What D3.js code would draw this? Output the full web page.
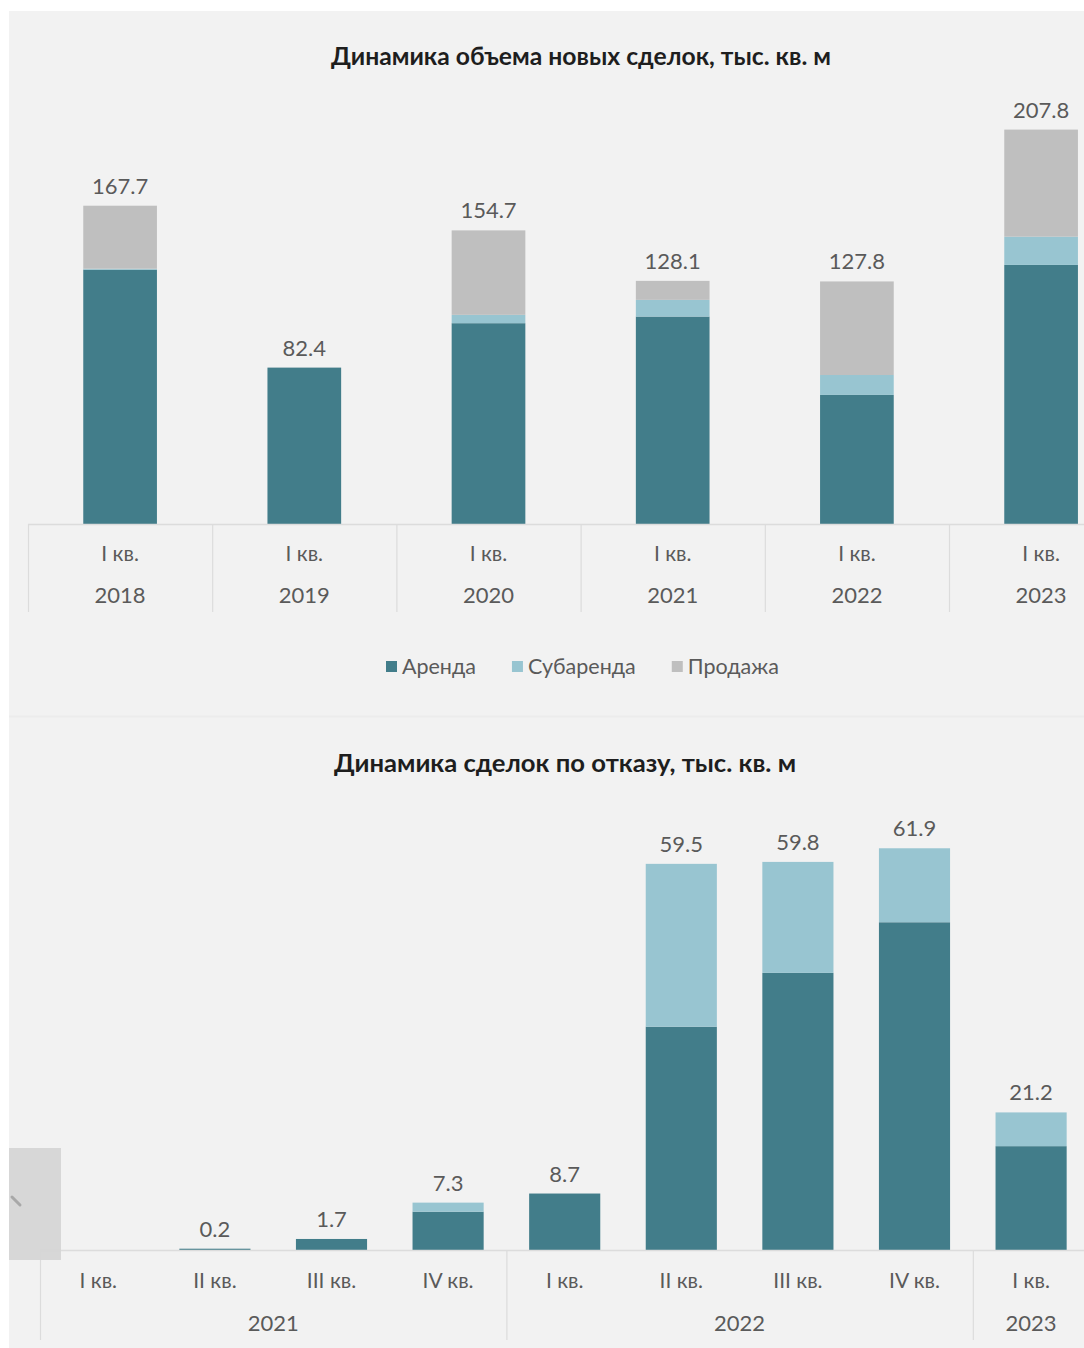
<!DOCTYPE html>
<html lang="ru">
<head>
<meta charset="utf-8">
<script src="https://cdn.jsdelivr.net/npm/d3@7"></script>
<style>
  html, body { margin: 0; padding: 0; background: #ffffff; }
  svg { display: block; }
  text { font-family: Lato, "Open Sans", "Noto Sans", sans-serif; }
</style>
</head>
<body>
<svg id="chart" width="1084" height="1348"></svg>
<script>
// ---- Chart 1: new deals volume, thousand sq. m ----
const dealYears = ["2018", "2019", "2020", "2021", "2022", "2023"];
const dealQuarter = "I кв.";
const dealRent = [134.0, 82.4, 105.8, 109.3, 68.0, 136.5];
const dealSublease = [0.5, 0.0, 4.4, 8.8, 10.5, 14.9];
const dealSale = [33.2, 0.0, 44.5, 10.0, 49.3, 56.4];
const dealTotals = [167.7, 82.4, 154.7, 128.1, 127.8, 207.8];

// ---- Chart 2: deals by termination, thousand sq. m ----
const exitQuarters = ["I кв.", "II кв.", "III кв.", "IV кв.", "I кв.", "II кв.", "III кв.", "IV кв.", "I кв."];
const exitYearOf = ["2021", "2021", "2021", "2021", "2022", "2022", "2022", "2022", "2023"];
const exitRent = [0, 0.2, 1.7, 5.9, 8.7, 34.4, 42.7, 50.5, 16.0];
const exitSublease = [0, 0, 0, 1.4, 0, 25.1, 17.1, 11.4, 5.2];
const exitTotals = [null, 0.2, 1.7, 7.3, 8.7, 59.5, 59.8, 61.9, 21.2];

const seriesNames = ["Аренда", "Субаренда", "Продажа"];
const colors = { "Аренда": "#427d8a", "Субаренда": "#98c5d1", "Продажа": "#bfbfbf" };
const textGrey = "#5a5a5a";
const lineGrey = "#dcdcdc";

const svg = d3.select("#chart");

// page background panel
svg.append("rect").attr("x", 9).attr("y", 11).attr("width", 1075).attr("height", 1337).attr("fill", "#f2f2f2");
svg.append("line").attr("x1", 9).attr("x2", 1084).attr("y1", 716.5).attr("y2", 716.5)
  .attr("stroke", "#ececec").attr("stroke-width", 2);

// ================= Chart 1 =================
const g1 = svg.append("g");
const x1 = d3.scaleBand().domain(dealYears).range([28, 28 + 184.2 * dealYears.length]).padding(0);
const y1 = d3.scaleLinear().domain([0, 220]).range([524, 524 - 1.898 * 220]);
const barW1 = x1.bandwidth() * 0.4;

const rows1 = dealYears.map((yr, i) => ({
  key: yr, "Аренда": dealRent[i], "Субаренда": dealSublease[i], "Продажа": dealSale[i], total: dealTotals[i]
}));
const stack1 = d3.stack().keys(seriesNames)(rows1);

g1.append("text").attr("x", 581).attr("y", 65).attr("text-anchor", "middle")
  .attr("font-size", 24).attr("font-weight", 700).attr("fill", "#1e1e1e")
  .attr("textLength", 500).attr("lengthAdjust", "spacingAndGlyphs")
  .text("Динамика объема новых сделок, тыс. кв. м");

g1.selectAll("g.series").data(stack1).join("g").attr("class", "series")
  .attr("fill", d => colors[d.key])
  .selectAll("rect").data(d => d).join("rect")
  .attr("x", d => x1(d.data.key) + (x1.bandwidth() - barW1) / 2)
  .attr("width", barW1)
  .attr("y", d => y1(d[1]))
  .attr("height", d => Math.max(0, y1(d[0]) - y1(d[1])));

g1.selectAll("text.total").data(rows1).join("text").attr("class", "total")
  .attr("x", d => x1(d.key) + x1.bandwidth() / 2)
  .attr("y", d => y1(d.total) - 12)
  .attr("text-anchor", "middle").attr("font-size", 22).attr("fill", textGrey)
  .text(d => d.total.toFixed(1));

// category axis
g1.append("line").attr("x1", x1.range()[0]).attr("x2", 1084).attr("y1", 524.5).attr("y2", 524.5)
  .attr("stroke", lineGrey).attr("stroke-width", 1.5);
g1.selectAll("line.sep").data(dealYears).join("line").attr("class", "sep")
  .attr("x1", d => x1(d) + 0.5).attr("x2", d => x1(d) + 0.5)
  .attr("y1", 524).attr("y2", 612).attr("stroke", lineGrey).attr("stroke-width", 1.2);
g1.selectAll("text.q").data(dealYears).join("text").attr("class", "q")
  .attr("x", d => x1(d) + x1.bandwidth() / 2).attr("y", 561)
  .attr("text-anchor", "middle").attr("font-size", 21).attr("fill", textGrey)
  .text(dealQuarter);
g1.selectAll("text.yr").data(dealYears).join("text").attr("class", "yr")
  .attr("x", d => x1(d) + x1.bandwidth() / 2).attr("y", 603)
  .attr("text-anchor", "middle").attr("font-size", 22).attr("fill", textGrey)
  .text(d => d);

// legend
const legend = g1.append("g").attr("transform", "translate(0,666)");
let lx = 386;
seriesNames.forEach(name => {
  legend.append("rect").attr("x", lx).attr("y", -5).attr("width", 11).attr("height", 11).attr("fill", colors[name]);
  const t = legend.append("text").attr("x", lx + 16).attr("y", 8).attr("font-size", 21.5).attr("fill", textGrey).text(name);
  lx += 16 + t.node().getComputedTextLength() + 36;
});

// ================= Chart 2 =================
const g2 = svg.append("g");
const idx2 = exitQuarters.map((q, i) => String(i));
const x2 = d3.scaleBand().domain(idx2).range([40, 40 + 116.6 * idx2.length]).padding(0);
const y2 = d3.scaleLinear().domain([0, 65]).range([1250, 1250 - 6.49 * 65]);
const barW2 = x2.bandwidth() * 0.61;

const rows2 = idx2.map((k, i) => ({ key: k, "Аренда": exitRent[i], "Субаренда": exitSublease[i], total: exitTotals[i] }));
const stack2 = d3.stack().keys(["Аренда", "Субаренда"])(rows2);

g2.append("text").attr("x", 565).attr("y", 772).attr("text-anchor", "middle")
  .attr("font-size", 24).attr("font-weight", 700).attr("fill", "#1e1e1e")
  .attr("textLength", 462).attr("lengthAdjust", "spacingAndGlyphs")
  .text("Динамика сделок по отказу, тыс. кв. м");

g2.selectAll("g.series").data(stack2).join("g").attr("class", "series")
  .attr("fill", d => colors[d.key])
  .selectAll("rect").data(d => d).join("rect")
  .attr("x", d => x2(d.data.key) + (x2.bandwidth() - barW2) / 2)
  .attr("width", barW2)
  .attr("y", d => y2(d[1]))
  .attr("height", d => Math.max(0, y2(d[0]) - y2(d[1])));

g2.selectAll("text.total").data(rows2.filter(d => d.total !== null)).join("text").attr("class", "total")
  .attr("x", d => x2(d.key) + x2.bandwidth() / 2)
  .attr("y", d => y2(d.total) - 12)
  .attr("text-anchor", "middle").attr("font-size", 22).attr("fill", textGrey)
  .text(d => d.total.toFixed(1));

// two-level category axis: quarters, then years
g2.append("line").attr("x1", x2.range()[0]).attr("x2", 1084).attr("y1", 1250.5).attr("y2", 1250.5)
  .attr("stroke", lineGrey).attr("stroke-width", 1.5);
g2.selectAll("text.q").data(idx2).join("text").attr("class", "q")
  .attr("x", d => x2(d) + x2.bandwidth() / 2).attr("y", 1288)
  .attr("text-anchor", "middle").attr("font-size", 21).attr("fill", textGrey)
  .text((d, i) => exitQuarters[i]);

const yearGroups = d3.groups(idx2, k => exitYearOf[+k]).map(([yr, keys]) => ({
  yr, x0: x2(keys[0]), x1: x2(keys[keys.length - 1]) + x2.bandwidth()
}));
g2.selectAll("line.sep").data(yearGroups).join("line").attr("class", "sep")
  .attr("x1", d => d.x0 + 0.5).attr("x2", d => d.x0 + 0.5)
  .attr("y1", 1250).attr("y2", 1340).attr("stroke", lineGrey).attr("stroke-width", 1.2);
g2.selectAll("text.yr").data(yearGroups).join("text").attr("class", "yr")
  .attr("x", d => (d.x0 + d.x1) / 2).attr("y", 1331)
  .attr("text-anchor", "middle").attr("font-size", 22).attr("fill", textGrey)
  .text(d => d.yr);

// carousel "previous" button overlaying the lower-left corner
const nav = svg.append("g");
nav.append("rect").attr("x", 9).attr("y", 1148).attr("width", 52).attr("height", 112)
  .attr("fill", "#d5d5d5").attr("fill-opacity", 0.95);
nav.append("line").attr("x1", 12).attr("y1", 1197).attr("x2", 20).attr("y2", 1205)
  .attr("stroke", "#a8a8a8").attr("stroke-width", 3).attr("stroke-linecap", "round");
</script>
</body>
</html>
